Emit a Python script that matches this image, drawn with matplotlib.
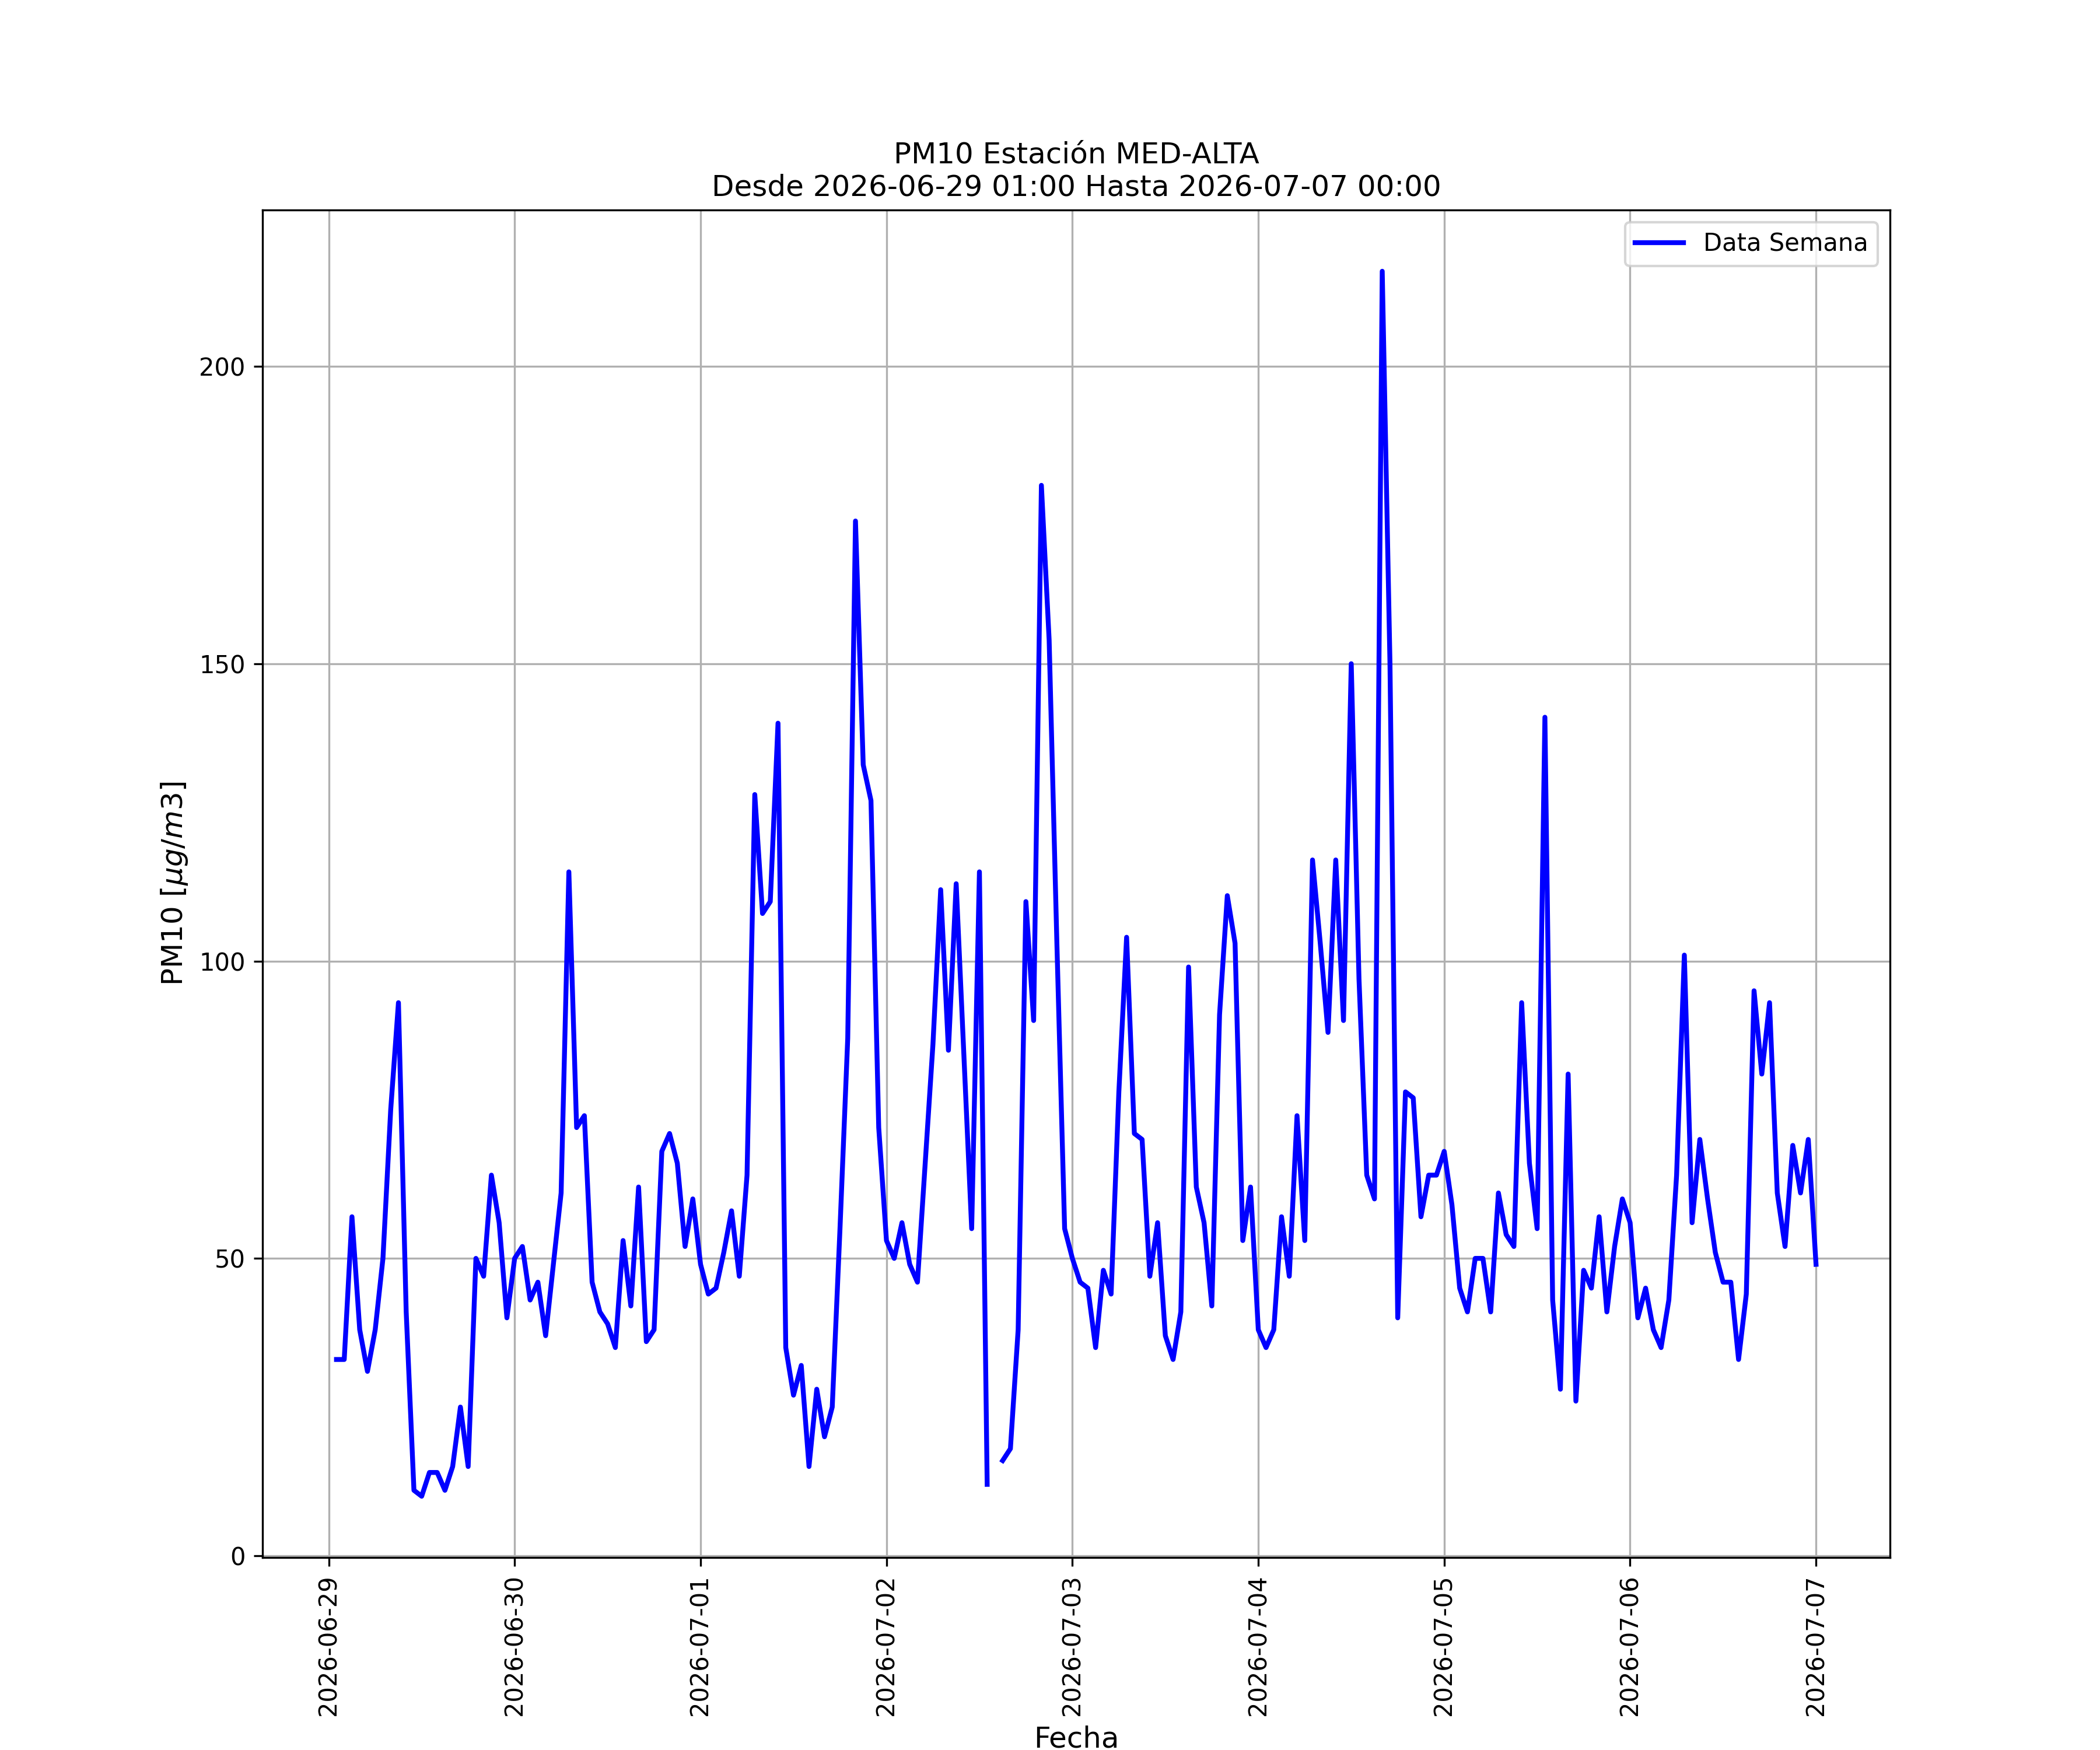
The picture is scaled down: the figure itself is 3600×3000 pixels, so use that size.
import numpy as np
import pandas as pd
import matplotlib
matplotlib.use("Agg")
import matplotlib.pyplot as plt
import matplotlib.dates as mdates
from matplotlib.ticker import MultipleLocator

start = "2026-06-29 01:00"
end = "2026-07-07 00:00"

day_0629 = [33, 33, 57, 38, 31, 38, 50, 75, 93, 41, 11, 10, 14, 14, 11, 15, 25, 15, 50, 47, 64, 56, 40]
day_0630 = [50, 52, 43, 46, 37, 49, 61, 115, 72, 74, 46, 41, 39, 35, 53, 42, 62, 36, 38, 68, 71, 66, 52, 60]
day_0701 = [49, 44, 45, 51, 58, 47, 64, 128, 108, 110, 140, 35, 27, 32, 15, 28, 20, 25, 55, 87, 174, 133, 127, 72]
day_0702 = [53, 50, 56, 49, 46, 66, 86, 112, 85, 113, 84, 55, 115, 12, np.nan, 16, 18, 38, 110, 90, 180, 154, 103, 55]
day_0703 = [50, 46, 45, 35, 48, 44, 78, 104, 71, 70, 47, 56, 37, 33, 41, 99, 62, 56, 42, 91, 111, 103, 53, 62]
day_0704 = [38, 35, 38, 57, 47, 74, 53, 117, 103, 88, 117, 90, 150, 97, 64, 60, 216, 150, 40, 78, 77, 57, 64, 64]
day_0705 = [68, 59, 45, 41, 50, 50, 41, 61, 54, 52, 93, 66, 55, 141, 43, 28, 81, 26, 48, 45, 57, 41, 52, 60]
day_0706 = [56, 40, 45, 38, 35, 43, 64, 101, 56, 70, 60, 51, 46, 46, 33, 44, 95, 81, 93, 61, 52, 69, 61, 70]
day_0707 = [49]

pm10 = day_0629 + day_0630 + day_0701 + day_0702 + day_0703 + day_0704 + day_0705 + day_0706 + day_0707
times = pd.date_range(start, end, freq="h")

title = "PM10 Estación MED-ALTA\nDesde 2026-06-29 01:00 Hasta 2026-07-07 00:00"
series_label = "Data Semana"

fig, ax = plt.subplots(figsize=(12, 10), dpi=300)
ax.plot(times, pm10, color="blue", linewidth=2, label=series_label)
ax.set_title(title, fontsize=12)
ax.set_xlabel("Fecha", fontsize=12)
ax.set_ylabel(r"PM10 [$\mu g/m3$]", fontsize=12)
ax.xaxis.set_major_locator(mdates.DayLocator())
ax.xaxis.set_major_formatter(mdates.DateFormatter("%Y-%m-%d"))
ax.yaxis.set_major_locator(MultipleLocator(50))
plt.setp(ax.get_xticklabels(), rotation=90)
ax.grid(True)
ax.legend(loc="upper right")
fig.savefig("out.png", dpi=300)
